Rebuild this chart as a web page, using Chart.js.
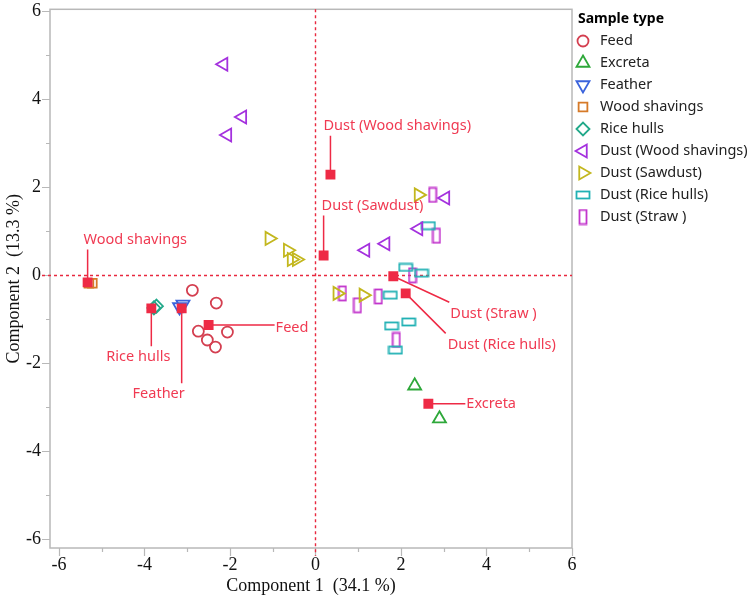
<!DOCTYPE html>
<html>
<head>
<meta charset="utf-8">
<script src="https://cdn.jsdelivr.net/npm/chart.js@4.4.0/dist/chart.umd.min.js"></script>
<style>
  html, body { margin: 0; padding: 0; background: #fff; }
  #wrap { width: 750px; height: 599px; }
</style>
</head>
<body>
<div id="wrap"><canvas id="pca"></canvas></div>
<script>
// values (component 1 = x, component 2 = y)
const feedX = [-2.88, -2.32, -2.74, -2.06, -2.53, -2.34];
const feedY = [-0.34, -0.63, -1.27, -1.29, -1.47, -1.63];
const excretaX = [2.32, 2.90];
const excretaY = [-2.51, -3.26];
const featherX = [-3.10, -3.18];
const featherY = [-0.66, -0.72];
const woodX = [-5.30, -5.22];
const woodY = [-0.18, -0.18];
const riceX = [-3.72, -3.78];
const riceY = [-0.70, -0.74];
const dustWoodX = [-2.15, -1.71, -2.06, 1.17, 1.64, 2.41, 3.04];
const dustWoodY = [4.80, 3.60, 3.19, 0.57, 0.72, 1.06, 1.76];
const dustSawX = [-1.08, -0.65, -0.56, -0.44, 0.51, 1.12, 2.41];
const dustSawY = [0.84, 0.57, 0.36, 0.36, -0.41, -0.45, 1.83];
const dustRiceX = [2.64, 2.11, 2.48, 1.75, 1.78, 2.18, 1.87];
const dustRiceY = [1.13, 0.18, 0.05, -0.45, -1.15, -1.06, -1.70];
const dustStrawX = [2.74, 2.83, 2.27, 0.63, 0.98, 1.47, 1.89];
const dustStrawY = [1.83, 0.90, 0.00, -0.41, -0.68, -0.48, -1.47];

// group means (red squares) and their labels
const centroidLabels = ['Wood shavings', 'Rice hulls', 'Feather', 'Feed', 'Dust (Wood shavings)',
  'Dust (Sawdust)', 'Dust (Straw )', 'Dust (Rice hulls)', 'Excreta'];
const centroidX = [-5.33, -3.84, -3.13, -2.50, 0.35, 0.19, 1.82, 2.11, 2.64];
const centroidY = [-0.16, -0.75, -0.75, -1.13, 2.29, 0.45, -0.02, -0.41, -2.92];

const xTicks = [-6, -5, -4, -3, -2, -1, 0, 1, 2, 3, 4, 5, 6];
const yTicks = [-6, -5, -4, -3, -2, -1, 0, 1, 2, 3, 4, 5, 6];

// where each label sits relative to its square (px): line end, text anchor, alignment
const labelPlace = [
  { line: [0, -33], text: [-4, -43], align: 'left' },
  { line: [0, 38], text: [-13, 49], align: 'center' },
  { line: [0, 75], text: [-23, 86], align: 'center' },
  { line: [66, 0], text: [67, 3], align: 'left' },
  { line: [0, -39], text: [-7, -49], align: 'left' },
  { line: [0, -40], text: [-2, -50], align: 'left' },
  { line: [56, 26], text: [57, 38], align: 'left' },
  { line: [40, 40], text: [42, 51], align: 'left' },
  { line: [37, 0], text: [38, 0], align: 'left' }
];

const RED = '#ee2a45';
const LABEL_RED = '#f03a52';

function pts(xs, ys) {
  return xs.map(function(x, i) { return { x: x, y: ys[i] }; });
}

function boxMarker(w, h, color) {
  const c = document.createElement('canvas');
  c.width = w + 2;
  c.height = h + 2;
  const cx = c.getContext('2d');
  cx.strokeStyle = color;
  cx.lineWidth = 1.8;
  cx.strokeRect(1.5, 1.5, w - 1, h - 1);
  return c;
}

const groups = [
  { label: 'Feed', data: pts(feedX, feedY), color: '#d43f50', style: 'circle', radius: 5.5, rotation: 0 },
  { label: 'Excreta', data: pts(excretaX, excretaY), color: '#2ea83a', style: 'triangle', radius: 7.5, rotation: 0 },
  { label: 'Feather', data: pts(featherX, featherY), color: '#3b63dc', style: 'triangle', radius: 7.5, rotation: 180 },
  { label: 'Wood shavings', data: pts(woodX, woodY), color: '#d67a28', style: 'rect', radius: 6.2, rotation: 0 },
  { label: 'Rice hulls', data: pts(riceX, riceY), color: '#22a98a', style: 'rectRot', radius: 6.5, rotation: 0 },
  { label: 'Dust (Wood shavings)', data: pts(dustWoodX, dustWoodY), color: '#a431de', style: 'triangle', radius: 7.5, rotation: -90 },
  { label: 'Dust (Sawdust)', data: pts(dustSawX, dustSawY), color: '#c3b71e', style: 'triangle', radius: 7.5, rotation: 90 },
  { label: 'Dust (Rice hulls)', data: pts(dustRiceX, dustRiceY), color: '#21b1b4', style: boxMarker(14, 8, '#21b1b4'), radius: 7, rotation: 0 },
  { label: 'Dust (Straw )', data: pts(dustStrawX, dustStrawY), color: '#c235cc', style: boxMarker(8, 15, '#c235cc'), radius: 7, rotation: 0 }
];

const datasets = [{
  label: 'centroids',
  data: pts(centroidX, centroidY),
  pointStyle: 'rect',
  pointRadius: 7,
  pointRotation: 0,
  backgroundColor: RED,
  borderColor: RED,
  borderWidth: 0,
  order: -1
}];
groups.forEach(function(g) {
  datasets.push({
    label: g.label,
    data: g.data,
    pointStyle: g.style,
    pointRadius: g.radius,
    pointRotation: g.rotation,
    backgroundColor: 'rgba(0,0,0,0)',
    borderColor: g.color,
    borderWidth: 1.8
  });
});

const SERIF = '"Liberation Serif", "DejaVu Serif", serif';
const SANS = '"Noto Sans", "Open Sans", sans-serif';

// frame, ticks, zero lines, label callouts, legend
const decorations = {
  id: 'decorations',
  beforeDatasetsDraw: function(chart) {
    const ctx = chart.ctx;
    const a = chart.chartArea;
    const xs = chart.scales.x, ys = chart.scales.y;
    ctx.save();
    // frame
    ctx.strokeStyle = '#b8b8b8';
    ctx.lineWidth = 1.5;
    ctx.strokeRect(a.left, a.top, a.right - a.left, a.bottom - a.top);
    // ticks
    ctx.beginPath();
    xTicks.forEach(function(v) {
      const px = Math.round(xs.getPixelForValue(v)) + 0.5;
      ctx.moveTo(px, a.bottom);
      ctx.lineTo(px, a.bottom + (v % 2 === 0 ? 8 : 4));
    });
    yTicks.forEach(function(v) {
      const py = Math.round(ys.getPixelForValue(v)) + 0.5;
      ctx.moveTo(a.left, py);
      ctx.lineTo(a.left - (v % 2 === 0 ? 8 : 4), py);
    });
    ctx.lineWidth = 1.2;
    ctx.stroke();
    // zero lines
    ctx.strokeStyle = '#e8283f';
    ctx.lineWidth = 1.4;
    ctx.setLineDash([3, 3]);
    const x0 = Math.round(xs.getPixelForValue(0)) + 0.5;
    const y0 = Math.round(ys.getPixelForValue(0)) + 0.5;
    ctx.beginPath();
    ctx.moveTo(x0, a.top);
    ctx.lineTo(x0, a.bottom + 8);
    ctx.moveTo(a.left - 8, y0);
    ctx.lineTo(a.right, y0);
    ctx.stroke();
    ctx.setLineDash([]);
    // callout lines
    ctx.strokeStyle = RED;
    ctx.lineWidth = 1.5;
    ctx.beginPath();
    centroidX.forEach(function(cx, i) {
      const px = xs.getPixelForValue(cx), py = ys.getPixelForValue(centroidY[i]);
      const p = labelPlace[i];
      ctx.moveTo(px, py);
      ctx.lineTo(px + p.line[0], py + p.line[1]);
    });
    ctx.stroke();
    ctx.restore();
  },
  afterDraw: function(chart) {
    const ctx = chart.ctx;
    const xs = chart.scales.x, ys = chart.scales.y;
    ctx.save();
    ctx.font = '14.5px ' + SANS;
    ctx.fillStyle = LABEL_RED;
    ctx.textBaseline = 'middle';
    centroidLabels.forEach(function(t, i) {
      const px = xs.getPixelForValue(centroidX[i]), py = ys.getPixelForValue(centroidY[i]);
      const p = labelPlace[i];
      ctx.textAlign = p.align;
      ctx.fillText(t, px + p.text[0], py + p.text[1]);
    });

    // legend
    const lx = 578, ly = 19, step = 22;
    ctx.textAlign = 'left';
    ctx.fillStyle = '#000';
    ctx.font = 'bold 14px ' + SANS;
    ctx.fillText('Sample type', lx, ly);
    ctx.font = '14.5px ' + SANS;
    groups.forEach(function(g, i) {
      const y = ly + step * (i + 1);
      ctx.save();
      ctx.strokeStyle = g.color;
      ctx.fillStyle = 'rgba(0,0,0,0)';
      ctx.lineWidth = 1.8;
      Chart.helpers.drawPoint(ctx, {
        pointStyle: g.style,
        radius: g.radius,
        rotation: g.rotation,
        borderWidth: 1.8
      }, lx + 5, y);
      ctx.restore();
      ctx.fillStyle = '#222';
      ctx.fillText(g.label, lx + 22, y);
    });
    ctx.restore();
  }
};

new Chart(document.getElementById('pca'), {
  type: 'scatter',
  data: { datasets: datasets },
  options: {
    responsive: true,
    maintainAspectRatio: false,
    animation: false,
    layout: { padding: { top: 7, right: 178, left: 0, bottom: 0 } },
    plugins: {
      legend: { display: false },
      tooltip: { enabled: false }
    },
    scales: {
      x: {
        type: 'linear',
        min: -6.21,
        max: 6,
        afterBuildTicks: function(scale) {
          scale.ticks = xTicks.map(function(v) { return { value: v }; });
        },
        afterFit: function(scale) {
          scale.height = 51;
          scale.paddingLeft = 0;
          scale.paddingRight = 0;
        },
        grid: { display: false, drawTicks: false },
        border: { display: false },
        ticks: {
          padding: 6,
          color: '#111',
          font: { family: SERIF, size: 18 },
          maxRotation: 0,
          autoSkip: false,
          callback: function(v) { return v % 2 === 0 ? String(v) : ''; }
        },
        title: {
          display: true,
          text: 'Component 1  (34.1 %)',
          color: '#111',
          font: { family: SERIF, size: 18 },
          padding: { top: 0, bottom: 2 }
        }
      },
      y: {
        type: 'linear',
        min: -6.2,
        max: 6.05,
        afterBuildTicks: function(scale) {
          scale.ticks = yTicks.map(function(v) { return { value: v }; });
        },
        afterFit: function(scale) {
          scale.width = 50;
          scale.paddingTop = 0;
          scale.paddingBottom = 0;
        },
        grid: { display: false, drawTicks: false },
        border: { display: false },
        ticks: {
          padding: 9,
          color: '#111',
          font: { family: SERIF, size: 18 },
          autoSkip: false,
          callback: function(v) { return v % 2 === 0 ? String(v) : ''; }
        },
        title: {
          display: true,
          text: 'Component 2  (13.3 %)',
          color: '#111',
          font: { family: SERIF, size: 18 },
          padding: { top: 3, bottom: 0 }
        }
      }
    }
  },
  plugins: [decorations]
});
</script>
</body>
</html>
